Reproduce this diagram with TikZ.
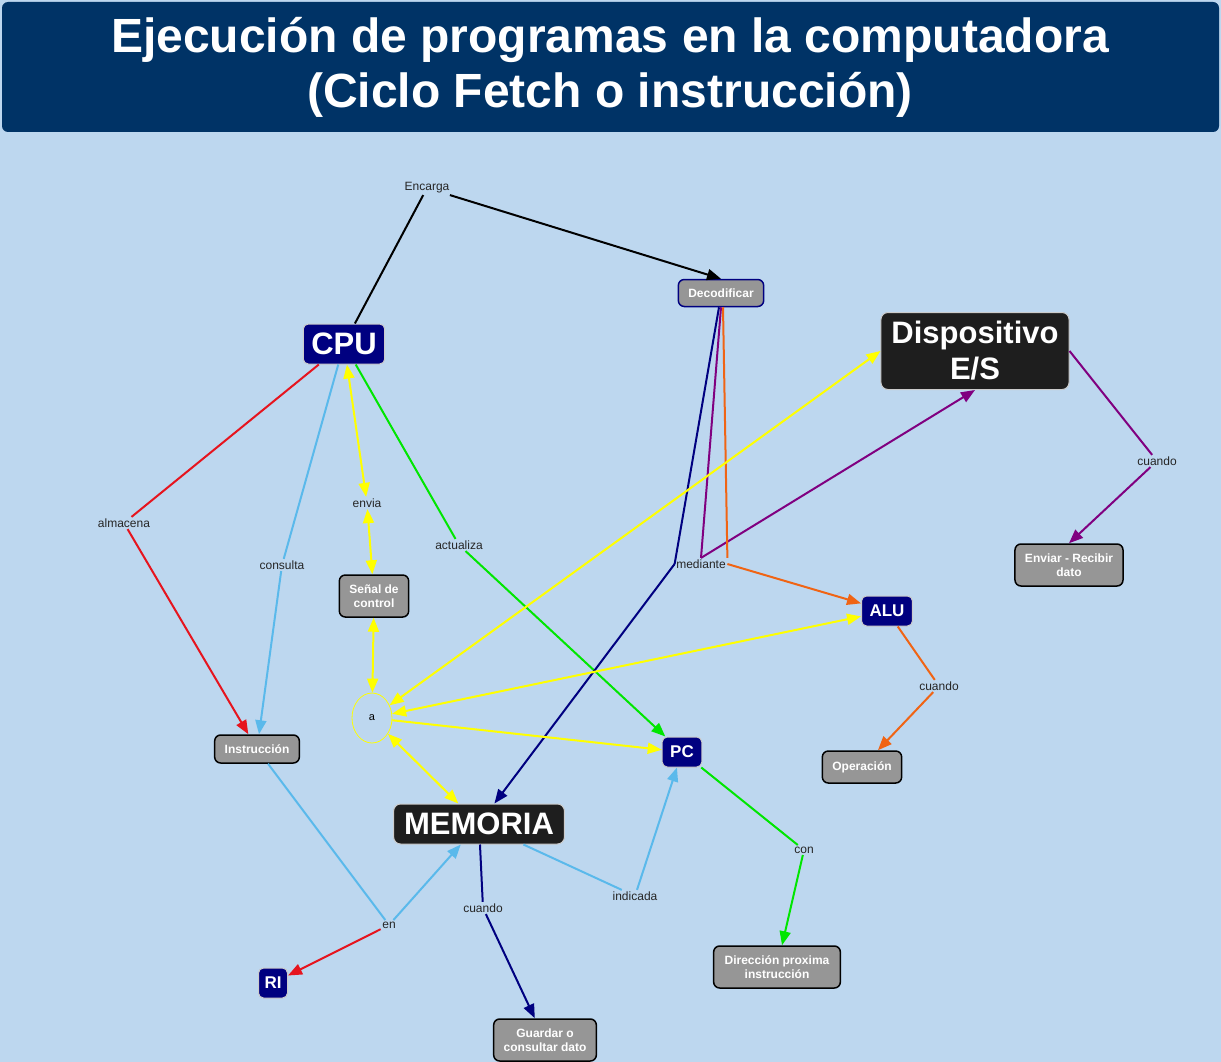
\documentclass[tikz,border=0pt]{standalone}
\usepackage{fontspec}
\setmainfont{Liberation Sans}
\usetikzlibrary{arrows.meta,shapes.geometric}
\definecolor{MapBg}{RGB}{189,215,239}
\definecolor{TitleBlue}{RGB}{0,51,102}
\definecolor{BoxNavy}{RGB}{0,0,128}
\definecolor{BoxGrey}{RGB}{150,150,150}
\definecolor{BoxBlack}{RGB}{30,30,30}
\definecolor{LnRed}{RGB}{230,20,30}
\definecolor{LnBlue}{RGB}{90,185,235}
\definecolor{LnYellow}{RGB}{255,255,0}
\definecolor{LnGreen}{RGB}{0,230,0}
\definecolor{LnPurple}{RGB}{128,0,128}
\definecolor{LnOrange}{RGB}{240,100,20}

\begin{document}
\begin{tikzpicture}[x=1pt,y=-1pt,
greybox/.style={draw=black,fill=BoxGrey,line width=1.5pt,rounded corners=6pt,minimum height=28pt,inner xsep=10pt,inner ysep=4pt,align=center,text=white,font=\fontsize{12}{14}\selectfont\bfseries},
navybox/.style={draw=black!20,fill=BoxNavy,line width=1pt,rounded corners=5pt,minimum height=30pt,inner xsep=8pt,inner ysep=3pt,text=white,font=\fontsize{17}{20}\selectfont\bfseries},
blackbox/.style={draw=black!20,fill=BoxBlack,line width=1pt,rounded corners=7pt,minimum height=40pt,inner xsep=10.5pt,inner ysep=3pt,align=center,text=white,font=\fontsize{31}{36}\selectfont\bfseries},
lbl/.style={inner sep=1.5pt,text=black!85,font=\fontsize{12}{14}\selectfont},
conn/.style={line width=2pt},
arr/.style={conn,-{Triangle[length=14pt,width=11pt]}},
dbl/.style={conn,{Triangle[length=14pt,width=11pt]}-{Triangle[length=14pt,width=11pt]}}]
\useasboundingbox[fill=MapBg] (0,0) rectangle (1221,1062);
\fill[TitleBlue,rounded corners=6pt] (2,2) rectangle (1219,132);
\node[text=white,align=center,font=\fontsize{48}{55}\selectfont\bfseries] (title) at (610,67) {Ejecución de programas en la computadora\\(Ciclo Fetch o instrucción)};
\node[navybox,minimum height=40pt,font=\fontsize{31}{36}\selectfont\bfseries] (cpu) at (344,344) {CPU};
\node[lbl] (enc) at (427,188) {Encarga};
\node[greybox,draw=BoxNavy,minimum height=27pt] (deco) at (721,293) {Decodificar};
\node[blackbox,minimum height=77pt] (disp) at (975,351) {Dispositivo\\E/S};
\node[lbl] (cuES) at (1157,461) {cuando};
\node[greybox,minimum height=42pt] (env) at (1069,565) {Enviar - Recibir\\dato};
\node[lbl] (alm) at (124,523) {almacena};
\node[lbl] (cons) at (282,565) {consulta};
\node[lbl] (envia) at (367,503) {envia};
\node[lbl] (act) at (459,545) {actualiza};
\node[greybox,minimum height=42pt] (senal) at (374,596) {Señal de\\control};
\node[lbl] (med) at (701,564) {mediante};
\node[navybox] (alu) at (887,611) {ALU};
\node[lbl] (cuALU) at (939,686) {cuando};
\node[greybox,minimum height=32pt] (oper) at (862,767) {Operación};
\node[ellipse,draw=LnYellow,line width=0.8pt,minimum width=40pt,minimum height=50pt,inner sep=0pt,font=\fontsize{11}{13}\selectfont] (a) at (372,718) {a};
\node[greybox] (instr) at (257,749) {Instrucción};
\node[navybox] (pc) at (682,752) {PC};
\node[blackbox] (mem) at (479,824) {MEMORIA};
\node[lbl] (con) at (804,850) {con};
\node[lbl] (ind) at (635,896) {indicada};
\node[lbl] (cuMem) at (483,908) {cuando};
\node[lbl] (en) at (389,925) {en};
\node[navybox,inner xsep=6pt] (ri) at (273,983) {RI};
\node[greybox,minimum height=42pt,inner xsep=11pt] (dir) at (777,967) {Dirección proxima\\instrucción};
\node[greybox,minimum height=42pt] (guar) at (545,1040) {Guardar o\\consultar dato};
\draw[conn,black] (cpu) -- (enc); \draw[arr,black] (enc) -- (deco.north);
\draw[conn,LnRed] (cpu) -- (alm); \draw[arr,LnRed] (alm) -- (instr);
\draw[conn,LnBlue] (cpu) -- (cons); \draw[arr,LnBlue] (cons) -- (instr);
\draw[dbl,LnYellow] (cpu) -- (envia); \draw[dbl,LnYellow] (envia) -- (senal); \draw[dbl,LnYellow] (senal) -- (a);
\draw[conn,LnGreen] (cpu) -- (act); \draw[arr,LnGreen] (act) -- (pc);
\draw[conn,BoxNavy] ([xshift=-2pt]deco.south) -- (med.west); \draw[arr,BoxNavy] (med.west) -- (mem);
\draw[conn,LnPurple] (deco.south) -- (med.north); \draw[arr,LnPurple] (med.north) -- (disp.south);
\draw[conn,LnOrange] ([xshift=2pt]deco.south) -- (med.north east); \draw[arr,LnOrange] (med.east) -- (alu);
\draw[dbl,LnYellow] (a) -- (disp.west); \draw[dbl,LnYellow] (a) -- (alu); \draw[arr,LnYellow] (a) -- (pc); \draw[dbl,LnYellow] (a) -- (mem);
\draw[conn,LnPurple] (disp.east) -- (cuES); \draw[arr,LnPurple] (cuES) -- (env.north);
\draw[conn,LnOrange] (alu) -- (cuALU); \draw[arr,LnOrange] (cuALU) -- (oper);
\draw[conn,LnGreen] (pc) -- (con); \draw[arr,LnGreen] (con) -- (dir);
\draw[conn,LnBlue] (mem) -- (ind); \draw[arr,LnBlue] (ind) -- (pc);
\draw[conn,LnBlue] (instr) -- (en); \draw[arr,LnBlue] (en) -- (mem); \draw[arr,LnRed] (en) -- (ri);
\draw[conn,BoxNavy] (mem) -- (cuMem); \draw[arr,BoxNavy] (cuMem) -- (guar);
\end{tikzpicture}
\end{document}
